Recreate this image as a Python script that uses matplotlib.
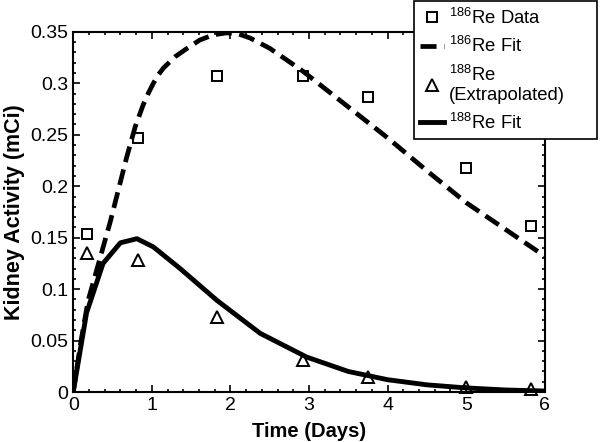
import numpy as np
import matplotlib
matplotlib.use("Agg")
from matplotlib import pyplot as plt
from matplotlib.ticker import MultipleLocator

plt.rcParams['font.family'] = ['Liberation Sans', 'DejaVu Sans']
plt.rcParams['mathtext.fontset'] = 'custom'
plt.rcParams['mathtext.rm'] = 'Liberation Sans'

# Measured data
t_data = [0.17, 0.83, 1.83, 2.92, 3.75, 5.0, 5.83]
re186_data = [0.154, 0.247, 0.307, 0.307, 0.287, 0.218, 0.161]
re188_data = [0.135, 0.128, 0.073, 0.031, 0.015, 0.005, 0.003]

# Fit curves
t_fit186 = [0, 0.1, 0.19, 0.47, 0.68, 0.79, 0.89, 0.96, 1.02, 1.08, 1.15,
            1.3, 1.45, 1.61, 1.78, 1.95, 2.1, 2.25, 2.5, 2.9, 3.25, 3.75,
            4.0, 4.5, 5.0, 5.5, 6.0]
fit186 = [0, 0.05, 0.089, 0.165, 0.228, 0.258, 0.279, 0.291, 0.300, 0.308,
          0.315, 0.326, 0.334, 0.342, 0.347, 0.349, 0.348, 0.344, 0.334,
          0.313, 0.292, 0.262, 0.247, 0.215, 0.184, 0.158, 0.132]
t_fit188 = [0, 0.17, 0.38, 0.6, 0.81, 1.02, 1.36, 1.83, 2.38, 2.97, 3.5,
            4.0, 4.5, 5.0, 5.5, 6.0]
fit188 = [0, 0.077, 0.125, 0.145, 0.149, 0.141, 0.12, 0.089, 0.057, 0.034,
          0.02, 0.012, 0.007, 0.004, 0.002, 0.001]
y_ticklabels = ['0', '0.05', '0.1', '0.15', '0.2', '0.25', '0.3', '0.35']

fig = plt.figure(figsize=(6, 4.42), dpi=100)
ax = fig.add_axes([0.122, 0.113, 0.786, 0.815])

ax.plot(t_data, re186_data, 's', ms=7, mfc='none', mec='black', mew=1.4,
        label=r'$^{186}$Re Data', clip_on=False, zorder=3)
ax.plot(t_fit186, fit186, '--', color='black', lw=3.4, dashes=(3.4, 1.6),
        label=r'$^{186}$Re Fit')
ax.plot(t_data, re188_data, '^', ms=9, mfc='none', mec='black', mew=1.4,
        label='$^{188}$Re\n(Extrapolated)', clip_on=False, zorder=3)
ax.plot(t_fit188, fit188, '-', color='black', lw=3.5, label=r'$^{188}$Re Fit')

ax.set_xlim(0, 6)
ax.set_ylim(0, 0.35)
ax.xaxis.set_major_locator(MultipleLocator(1))
ax.xaxis.set_minor_locator(MultipleLocator(0.2))
ax.set_yticks(np.arange(0, 0.351, 0.05))
ax.set_yticklabels(y_ticklabels)
ax.yaxis.set_minor_locator(MultipleLocator(0.01))
ax.tick_params(which='both', direction='in', top=True, right=True,
               labelsize=14, width=1.2)
ax.tick_params(which='major', length=5)
ax.tick_params(which='minor', length=2.5)
for s in ax.spines.values():
    s.set_linewidth(1.5)

ax.set_xlabel('Time (Days)', fontsize=14.5, fontweight='bold', labelpad=6)
ax.set_ylabel('Kidney Activity (mCi)', fontsize=15.5, fontweight='bold', labelpad=4)

# legend sits partly outside the axes, with empty room on its right side
leg = fig.legend(loc='upper left', bbox_to_anchor=(0.69, 0.5, 0.305, 0.497),
                 mode='expand', fontsize=13.3, frameon=True, fancybox=False,
                 framealpha=1, edgecolor='black', handlelength=1.3,
                 handletextpad=0.25, labelspacing=0.45, borderpad=0.35,
                 borderaxespad=0)
leg.get_frame().set_linewidth(1.2)

fig.savefig('out.png', dpi=100)
